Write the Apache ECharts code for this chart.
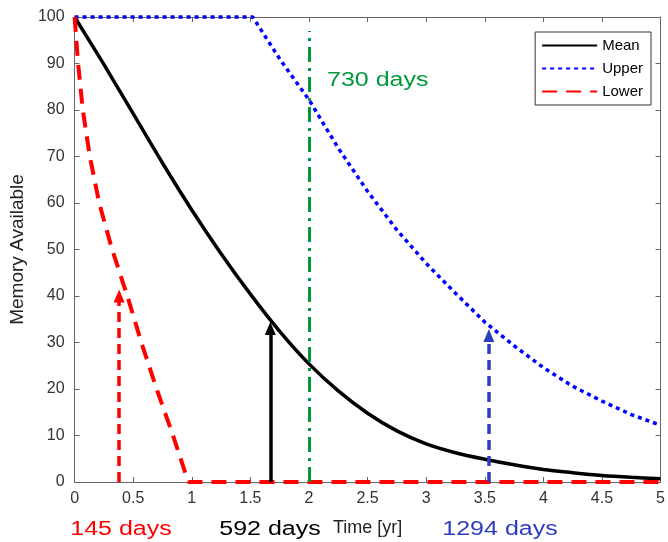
<!DOCTYPE html>
<html><head><meta charset="utf-8">
<script src="https://cdn.jsdelivr.net/npm/echarts@6/dist/echarts.min.js"></script>
<style>html,body{margin:0;padding:0;background:#fff}#c{width:668px;height:542px}</style>
</head><body><div id="c"></div>
<script>
// ---- data ----
const meanTimes   = [0,0.25,0.5,0.75,1.0,1.25,1.5,1.75,2.0,2.25,2.5,2.75,3.0,3.25,3.5,3.75,4.0,4.25,4.5,4.75,5.0];
const meanValues  = [100,89.8,79.2,68.6,58.5,49.1,40.4,32.4,25.4,19.6,14.8,11,8.2,6.3,4.9,3.7,2.7,2.0,1.4,1.0,0.7];
const upperTimes  = [0,1.52,1.75,2.0,2.25,2.5,2.75,3.0,3.25,3.5,3.75,4.0,4.25,4.5,4.75,5.0];
const upperValues = [100,100,91,82.2,71.8,62.5,54.2,47,40.6,34.4,29.3,24.6,20.6,17.4,14.5,12.2];
const lowerTimes  = [0,0.03,0.07,0.13,0.21,0.32,0.45,0.57,0.70,0.84,0.97,5];
const lowerValues = [100,90,80,70,60,50,40,30,20,10,0,0];
const seriesNames = ['Mean','Upper','Lower'];
const arrowTimes = [0.38, 1.67, 3.535];
const arrowHeadValues = [40, 33, 31.5];
const dayLabels = ['145 days','592 days','1294 days'];
const thresholdTime = 2;
const thresholdTop = 97;
const thresholdLabel = '730 days';
const xTicks = {min:0, max:5, interval:0.5};
const yTicks = {min:0, max:100, interval:10};

const FONT = '"Liberation Sans", Arial, sans-serif';
const RED = '#ff0000', BLUE = '#0000ff', ARROWBLUE = '#2e3cc0', GREEN = '#00993d';
const arrowColors = [RED, '#000000', ARROWBLUE];
const arrowTypes = [[10,6], 'solid', [10,6]];
const labelCenters = [121, 270, 500];

const zip = (xs, ys) => xs.map((x, i) => [x, ys[i]]);

const arrowLines = arrowTimes.map((t, i) => [
  {coord:[t, 0], symbol:'none', lineStyle:{color:arrowColors[i], width:3.5, type:arrowTypes[i]}},
  {coord:[t, arrowHeadValues[i]], symbol:'triangle', symbolSize:[11,13]}
]);
arrowLines.push([
  {coord:[thresholdTime, 0], symbol:'none', lineStyle:{color:GREEN, width:3, type:[15,6,3,6]}},
  {coord:[thresholdTime, thresholdTop], symbol:'none'}
]);

const axisCommon = {
  type:'value',
  axisLine:{show:true, onZero:false, lineStyle:{color:'#666', width:1}},
  axisTick:{show:true, inside:true, length:5, lineStyle:{color:'#666'}},
  splitLine:{show:false}
};

const chart = echarts.init(document.getElementById('c'), null, {renderer:'canvas'});
const textEls = dayLabels.map((s, i) => ({
  type:'text', x:labelCenters[i], y:529, scaleX:1.25,
  style:{text:s, fill:arrowColors[i], font:'20px ' + FONT, align:'center', verticalAlign:'middle',
         textAlign:'center', textVerticalAlign:'middle'}
}));
textEls.push({
  type:'text', x:327, y:80, scaleX:1.25,
  style:{text:thresholdLabel, fill:GREEN, font:'20px ' + FONT, align:'left', verticalAlign:'middle',
         textAlign:'left', textVerticalAlign:'middle'}
});

chart.setOption({
  animation:false,
  backgroundColor:'#fff',
  textStyle:{fontFamily:FONT},
  grid:{left:73.5, right:4, top:17, bottom:58, containLabel:false},
  legend:{
    data:seriesNames, orient:'vertical', right:17, top:32,
    itemWidth:55, itemHeight:12, itemGap:8,
    padding:[6,8,6,6], borderColor:'#333', borderWidth:1, backgroundColor:'#fff',
    itemStyle:{opacity:0},
    textStyle:{fontSize:15, color:'#000', fontFamily:FONT}
  },
  xAxis:[
    Object.assign({}, axisCommon, xTicks, {
      position:'bottom',
      axisLabel:{color:'#333', fontSize:16, margin:9, fontFamily:FONT},
      name:'Time [yr]', nameLocation:'middle', nameGap:37,
      nameTextStyle:{color:'#222', fontSize:18, fontFamily:FONT}
    }),
    Object.assign({}, axisCommon, xTicks, {position:'top', axisLabel:{show:false}})
  ],
  yAxis:[
    Object.assign({}, axisCommon, yTicks, {
      position:'left',
      axisLabel:{color:'#333', fontSize:16, margin:10, fontFamily:FONT},
      name:'Memory Available', nameLocation:'middle', nameGap:46,
      nameTextStyle:{color:'#222', fontSize:19, fontFamily:FONT}
    }),
    Object.assign({}, axisCommon, yTicks, {position:'right', axisLabel:{show:false}})
  ],
  series:[
    {name:'helper', type:'line', data:[], silent:true,
     markLine:{silent:true, animation:false, label:{show:false}, symbol:['none','triangle'],
               emphasis:{disabled:true}, data:arrowLines}},
    {name:'Mean', type:'line', data:zip(meanTimes, meanValues), symbol:'none', smooth:0.3, clip:false,
     lineStyle:{color:'#000', width:3.5}, itemStyle:{color:'#000'}, z:3},
    {name:'Upper', type:'line', data:zip(upperTimes, upperValues), symbol:'none', clip:false,
     lineStyle:{color:BLUE, width:3.5, type:[4,4]}, itemStyle:{color:BLUE}, z:3},
    {name:'Lower', type:'line', data:zip(lowerTimes, lowerValues), symbol:'none', clip:false,
     lineStyle:{color:RED, width:4, type:[15,9]}, itemStyle:{color:RED}, z:4}
  ],
  graphic:textEls
});
</script>
</body></html>
